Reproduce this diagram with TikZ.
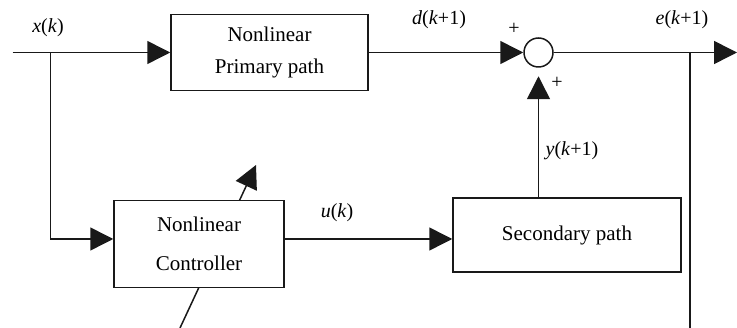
\documentclass[tikz,border=0pt]{standalone}
\usepackage{fontspec}
\setmainfont{Liberation Serif}
\usetikzlibrary{arrows.meta}
\tikzset{
  line/.style={line width=1.5pt, draw=black!90},
  arr/.style={line, -{Triangle[length=23pt,width=23pt]}},
  block/.style={line, rectangle, fill=white, align=center, inner sep=0pt,
    font=\fontsize{21}{25.2}\selectfont},
  junction/.style={line, circle, fill=white, minimum size=29pt, inner sep=0pt},
  lbl/.style={inner sep=0pt, font=\fontsize{20}{24}\selectfont},
}
\newcommand{\vv}[1]{\textit{#1}}
\begin{document}
\begin{tikzpicture}[x=1pt, y=-1pt]
\useasboundingbox (0,0) rectangle (737,328);

% adaptation arrow, drawn first so the controller block covers its middle
\coordinate (a0) at (180,328);
\coordinate (a1) at (256,165);
\draw[arr] (a0) -- (a1);

% blocks
\node[block, minimum width=197pt, minimum height=76pt] (prim) at (269.5,52.5)
  {Nonlinear\\[6.8pt]Primary path};
\node[block, minimum width=170pt, minimum height=87pt] (ctrl) at (199,244)
  {Nonlinear\\[13.8pt]Controller};
\node[block, minimum width=228pt, minimum height=74pt] (sec) at (567,235)
  {Secondary path};
\node[junction] (sum) at (538.5,52.5) {};

% free ends and branch points
\coordinate (in)   at (12.7,52.5);
\coordinate (br)   at (50.7,52.5);
\coordinate (out)  at (737,52.5);
\coordinate (ebr)  at (690,52.5);
\coordinate (ebot) at (690,328);

% connectors
\draw[arr] (in) -- (prim.west);
\draw[arr] (br) |- ([yshift=5pt]ctrl.west);
\draw[arr] ([yshift=5pt]ctrl.east) -- ([yshift=5pt]ctrl.east -| sec.west);
\draw[arr] (prim.east) -- (sum.west);
\draw[arr] (sum.east) -- (out);
\draw[line] (ebr) -- (ebot);
\draw[arr] (sec.north -| sum) -- ([yshift=-8.5pt]sum.south);

% signal labels
\node[lbl] (lx) at (48,28) {\vv{x}(\vv{k})};
\node[lbl] (ld) at (439,20) {\vv{d}(\vv{k}+1)};
\node[lbl] (le) at (682,20) {\vv{e}(\vv{k}+1)};
\node[lbl] (ly) at (572,151) {\vv{y}(\vv{k}+1)};
\node[lbl] (lu) at (337,213) {\vv{u}(\vv{k})};
\node[lbl] (p1) at (514,29) {+};
\node[lbl] (p2) at (557,83) {+};
\end{tikzpicture}
\end{document}
